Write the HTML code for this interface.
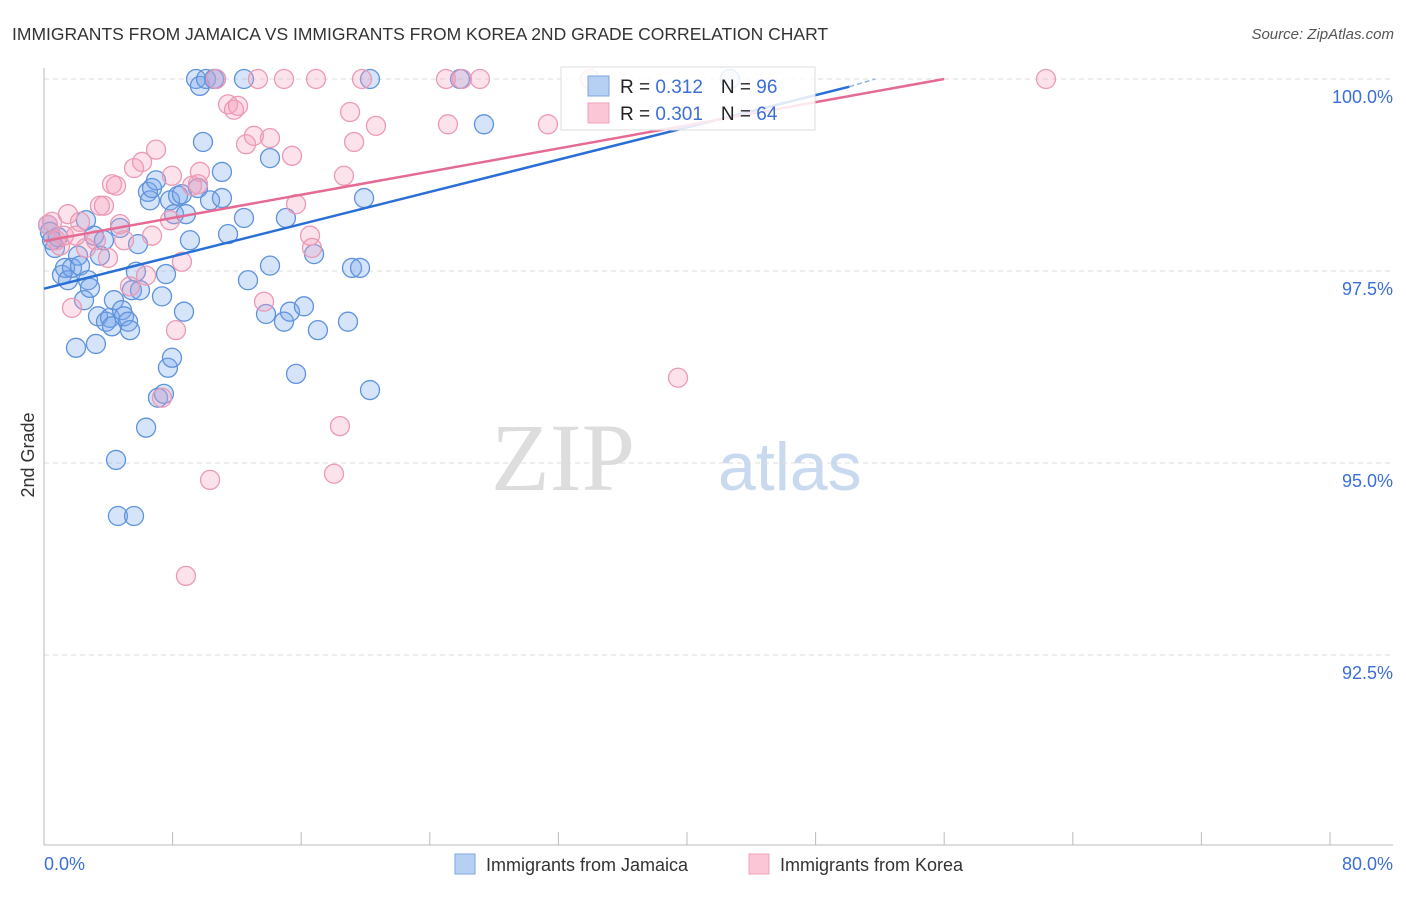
<!DOCTYPE html>
<html><head><meta charset="utf-8"><style>
body{margin:0;background:#fff;font-family:"Liberation Sans",sans-serif}
</style></head><body>
<svg width="1406" height="892" xmlns="http://www.w3.org/2000/svg" font-family="Liberation Sans, sans-serif">
<text x="12" y="40" font-size="17.5" fill="#333">IMMIGRANTS FROM JAMAICA VS IMMIGRANTS FROM KOREA 2ND GRADE CORRELATION CHART</text>
<text x="1394" y="39" font-size="15" fill="#555" font-style="italic" text-anchor="end">Source: ZipAtlas.com</text>
<text x="635" y="490" font-size="96" fill="#ddd" text-anchor="end" font-family="Liberation Serif, serif">ZIP</text>
<text x="718" y="490" font-size="68" fill="#c9d9f0">atlas</text>
<text transform="translate(34,455) rotate(-90)" font-size="18" fill="#333" text-anchor="middle">2nd Grade</text>
<g id="grid"></g><g id="axes"></g><g id="pts"></g><g id="trend"></g>
<g>
<rect x="561" y="67" width="254" height="63" fill="#fff" fill-opacity="0.85" stroke="#ddd"/>
<rect x="588" y="76" width="21" height="20" fill="#b6d0f4" stroke="#7ea6e0"/>
<rect x="588" y="103" width="21" height="20" fill="#fbc7d6" stroke="#f0a0b8"/>
<text x="620" y="93" font-size="19" fill="#222">R = <tspan fill="#3b6fd6">0.312</tspan><tspan dx="18">N = </tspan><tspan fill="#3b6fd6">96</tspan></text>
<text x="620" y="120" font-size="19" fill="#222">R = <tspan fill="#3b6fd6">0.301</tspan><tspan dx="18">N = </tspan><tspan fill="#3b6fd6">64</tspan></text>
</g>
<text x="44" y="870" font-size="18" fill="#3b6fd6">0.0%</text>
<text x="1393" y="870" font-size="18" fill="#3b6fd6" text-anchor="end">80.0%</text>
<g>
<rect x="455" y="854" width="20" height="20" fill="#b6d0f4" stroke="#7ea6e0"/>
<text x="486" y="871" font-size="18" fill="#333">Immigrants from Jamaica</text>
<rect x="749" y="854" width="20" height="20" fill="#fbc7d6" stroke="#f0a0b8"/>
<text x="780" y="871" font-size="18" fill="#333">Immigrants from Korea</text>
</g>
</svg>
<script>
const yTicks=[100,97.5,95,92.5];
const yTickLabels=["100.0%","97.5%","95.0%","92.5%"];
const xTicks=[0,8,16,24,32,40,48,56,64,72,80];
const jamX=[0.25,0.37,0.5,0.68,0.87,1.12,1.31,1.49,1.74,1.99,2.12,2.24,2.49,2.61,2.74,2.86,3.11,3.23,3.36,3.48,3.73,3.86,4.11,4.23,4.35,4.48,4.6,4.73,4.85,4.98,5.23,5.35,5.47,5.6,5.72,5.85,5.97,6.35,6.47,6.59,6.72,6.97,7.09,7.34,7.46,7.59,7.71,7.84,7.96,8.09,8.34,8.58,8.71,8.83,9.08,9.46,9.58,9.7,9.89,10.08,10.33,10.58,10.7,11.07,11.07,11.45,12.44,12.44,12.69,13.81,14.06,14.06,14.93,15.05,15.3,15.68,16.17,16.8,17.04,18.91,19.16,19.66,19.91,20.28,20.28,25.88,27.37,42.67];
const jamY=[98.1,98.01,97.9,97.8,97.94,97.45,97.54,97.38,97.54,96.5,97.7,97.57,97.12,98.16,97.38,97.28,97.96,96.55,96.91,97.7,97.9,96.84,96.89,96.78,97.12,95.04,94.31,98.06,96.99,96.91,96.84,96.73,97.25,94.31,97.49,97.85,97.25,95.46,98.53,98.42,98.58,98.68,95.85,97.17,95.9,97.46,96.24,98.42,96.37,98.24,98.48,98.5,96.97,98.24,97.9,100,98.58,99.91,99.18,100,98.42,100,100,98.79,98.45,97.98,100,98.19,97.38,96.94,98.97,97.57,96.84,98.19,96.97,96.16,97.04,97.72,96.73,96.84,97.54,97.54,98.45,100,95.95,100,99.41,100];
const korX=[0.25,0.5,0.75,1,1.24,1.49,1.74,1.99,2.24,2.61,3.23,3.48,3.73,3.98,4.23,4.48,4.73,4.98,5.35,5.6,6.1,6.35,6.72,6.97,7.34,7.84,7.96,8.21,8.58,8.83,9.21,9.58,9.7,10.33,10.7,11.45,11.82,12.07,12.57,13.06,13.31,13.69,14.06,14.93,15.43,15.68,16.55,16.67,16.92,18.04,18.41,18.66,19.04,19.29,19.78,20.65,25.01,25.13,26,27.12,31.35,33.97,39.44,62.33];
const korY=[98.1,98.14,97.9,97.83,97.96,98.24,97.02,97.96,98.14,97.8,97.9,98.35,98.35,97.67,98.63,98.61,98.11,97.9,97.3,98.84,98.92,97.44,97.96,99.08,95.85,98.16,98.74,96.73,97.62,93.53,98.61,98.63,98.79,94.78,100,99.67,99.6,99.65,99.15,99.26,100,97.1,99.23,100,99,98.37,97.96,97.8,100,94.86,95.48,98.74,99.57,99.18,100,99.39,100,99.41,100,100,99.41,100,96.11,100];
const jamTrend=[97.27,99.9,50.1,51.7];
const korTrend=[97.89,100,56.0];
const NS="http://www.w3.org/2000/svg";
const X=v=>44+v/80*1286;
const Y=v=>79+(100-v)/2.5*192;
function mk(t,a,p){const e=document.createElementNS(NS,t);for(const k in a)e.setAttribute(k,a[k]);p.appendChild(e);return e;}
const grid=document.getElementById('grid'),axes=document.getElementById('axes'),pts=document.getElementById('pts'),tr=document.getElementById('trend');
yTicks.forEach((t,i)=>{
 const l=mk('line',{x1:44,x2:1393,y1:Y(t),y2:Y(t),stroke:'#ddd','stroke-dasharray':'5,4'},grid);
 
 
 const tx=mk('text',{x:1393,y:Y(t)+24,'font-size':18,fill:'#3b6fd6','text-anchor':'end'},grid);
 tx.textContent=yTickLabels[i];
 
 
});
const ya=mk('line',{x1:44,x2:44,y1:68,y2:845,stroke:'#bbb'},axes);


const xa=mk('line',{x1:44,x2:1393,y1:845,y2:845,stroke:'#bbb'},axes);


xTicks.forEach(t=>{
 const l=mk('line',{x1:X(t),x2:X(t),y1:832,y2:845,stroke:'#bbb'},axes);
 
 
});
jamX.forEach((v,i)=>{
 const c=mk('circle',{cx:X(v),cy:Y(jamY[i]),r:9.5,fill:'rgba(120,165,235,0.3)',stroke:'#5f93dc','stroke-width':1.3},pts);
 
 
});
korX.forEach((v,i)=>{
 const c=mk('circle',{cx:X(v),cy:Y(korY[i]),r:9.5,fill:'rgba(245,160,190,0.3)',stroke:'#eb9ab5','stroke-width':1.3},pts);
 
 
});
const jl=mk('line',{x1:X(0),y1:Y(jamTrend[0]),x2:X(jamTrend[2]),y2:Y(jamTrend[1]),stroke:'#2a6fd6','stroke-width':2.5},tr);


const jd=mk('line',{x1:X(jamTrend[2]),y1:Y(jamTrend[1]),x2:X(jamTrend[3]),y2:Y(100),stroke:'#8fb3ea','stroke-width':1.5,'stroke-dasharray':'5,3'},tr);


const kl=mk('line',{x1:X(0),y1:Y(korTrend[0]),x2:X(korTrend[2]),y2:Y(korTrend[1]),stroke:'#e56b95','stroke-width':2.5},tr);


</script>
</body></html>
